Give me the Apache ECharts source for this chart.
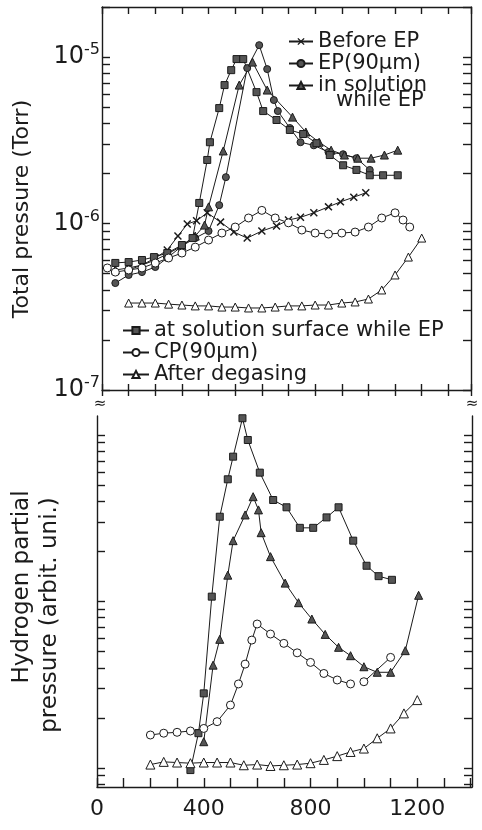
<!DOCTYPE html>
<html><head><meta charset="utf-8">
<script src="https://cdn.jsdelivr.net/npm/echarts@6/dist/echarts.min.js"></script>
<style>html,body{margin:0;padding:0;background:#fff}#c{width:482px;height:830px}</style>
</head><body><div id="c"></div>
<script>
// ---------- data (x = temperature, y = pressure) ----------
// Top panel: total pressure (Torr)
const beforeEP = [[100,5.26e-7],[150,5.63e-7],[200,6.21e-7],[245,6.93e-7],[285,8.41e-7],[320,9.93e-7],[355,1.04e-6],[395,1.16e-6],[445,1.02e-6],[495,8.89e-7],[545,8.18e-7],[600,9.02e-7],[655,9.67e-7],[700,1.05e-6],[745,1.09e-6],[795,1.16e-6],[850,1.26e-6],[895,1.35e-6],[945,1.44e-6],[990,1.53e-6]];
const ep90 = [[50,4.39e-7],[100,4.91e-7],[150,5.11e-7],[200,5.48e-7],[245,6.21e-7],[300,7.33e-7],[350,8.18e-7],[400,9.02e-7],[440,1.29e-6],[465,1.90e-6],[545,8.59e-6],[590,1.18e-5],[620,8.47e-6],[645,5.52e-6],[660,4.74e-6],[705,3.75e-6],[745,3.08e-6],[795,2.95e-6],[850,2.69e-6],[905,2.61e-6],[955,2.47e-6],[1005,2.10e-6]];
const inSolution = [[50,5.26e-7],[100,5.41e-7],[150,5.63e-7],[200,6.04e-7],[245,6.56e-7],[300,7.33e-7],[350,8.41e-7],[385,9.79e-7],[400,1.26e-6],[455,2.73e-6],[515,6.79e-6],[565,9.33e-6],[620,6.34e-6],[715,4.36e-6],[765,3.55e-6],[815,3.08e-6],[860,2.76e-6],[910,2.58e-6],[960,2.47e-6],[1010,2.47e-6],[1060,2.58e-6],[1110,2.76e-6]];
const atSurface = [[50,5.80e-7],[100,5.87e-7],[150,6.04e-7],[195,6.29e-7],[245,6.65e-7],[300,7.43e-7],[340,8.18e-7],[365,1.33e-6],[395,2.41e-6],[405,3.08e-6],[440,4.94e-6],[460,6.79e-6],[485,8.35e-6],[505,9.73e-6],[530,9.73e-6],[580,6.16e-6],[605,4.74e-6],[655,4.19e-6],[705,3.65e-6],[755,3.45e-6],[805,3.04e-6],[855,2.58e-6],[905,2.24e-6],[955,2.10e-6],[1005,1.95e-6],[1055,1.95e-6],[1110,1.95e-6]];
const cp90 = [[20,5.41e-7],[50,5.11e-7],[100,5.26e-7],[150,5.41e-7],[200,5.79e-7],[250,6.21e-7],[300,6.65e-7],[350,7.22e-7],[400,7.96e-7],[450,8.77e-7],[500,9.53e-7],[550,1.08e-6],[600,1.20e-6],[650,1.08e-6],[700,1.01e-6],[750,9.14e-7],[800,8.77e-7],[850,8.65e-7],[900,8.77e-7],[950,8.89e-7],[1000,9.53e-7],[1050,1.08e-6],[1100,1.16e-6],[1130,1.05e-6],[1155,9.53e-7]];
const afterDegas = [[100,3.33e-7],[150,3.33e-7],[200,3.33e-7],[250,3.28e-7],[300,3.24e-7],[350,3.20e-7],[400,3.20e-7],[450,3.15e-7],[500,3.15e-7],[550,3.11e-7],[600,3.11e-7],[650,3.15e-7],[700,3.20e-7],[750,3.20e-7],[800,3.24e-7],[850,3.24e-7],[900,3.33e-7],[950,3.38e-7],[1000,3.52e-7],[1050,3.99e-7],[1100,4.91e-7],[1150,6.29e-7],[1200,8.18e-7]];

// Bottom panel: hydrogen partial pressure (arbitrary units)
const h2Surface = [[350,0.973],[380,1.62],[400,2.81],[430,10.7],[460,32.3],[490,54.2],[510,74.1],[545,126],[565,93.3],[610,59.4],[660,40.7],[710,36.8],[760,27.7],[810,27.7],[860,32.0],[905,36.8],[960,23.2],[1010,16.4],[1055,14.2],[1105,13.5]];
const h2InSolution = [[400,1.44],[435,4.15],[460,5.93],[490,14.4],[510,23.2],[555,33.1],[585,42.6],[605,35.5],[615,25.9],[650,18.6],[705,12.9],[755,9.84],[805,7.85],[855,6.35],[905,5.31],[950,4.73],[1000,4.06],[1050,3.76],[1100,3.76],[1155,5.07],[1205,10.9]];
const h2CP = [[200,1.58],[250,1.62],[300,1.64],[350,1.67],[400,1.73],[450,1.90],[500,2.39],[530,3.20],[555,4.21],[580,5.87],[600,7.33],[650,6.38],[700,5.61],[750,4.92],[800,4.31],[850,3.70],[900,3.38],[950,3.20],[975,null],[1000,3.30],[1100,4.62]];
const h2AfterDegas = [[200,1.05],[250,1.09],[300,1.08],[350,1.07],[400,1.08],[450,1.08],[500,1.08],[550,1.04],[600,1.05],[650,1.03],[700,1.04],[750,1.05],[800,1.07],[850,1.12],[900,1.18],[950,1.25],[1000,1.31],[1050,1.51],[1100,1.73],[1150,2.13],[1200,2.56]];

// ---------- ticks / labels ----------
const topTickValues = [1e-7,2e-7,3e-7,4e-7,5e-7,6e-7,7e-7,8e-7,9e-7,1e-6,2e-6,3e-6,4e-6,5e-6,6e-6,7e-6,8e-6,9e-6,1e-5,2e-5];
const topLabelValues = [1e-7,1e-6,1e-5];
const topLabelExps = ['-7','-6','-5'];
const bottomTickValues = [0.8,0.9,1,2,3,4,5,6,7,8,9,10,20,30,40,50,60,70,80,90,100];
const xLabelValues = [0,400,800,1200];

const names = ['Before EP','EP(90µm)','in solution while EP','at solution surface while EP','CP(90µm)','After degasing'];

// ---------- style ----------
const FONT = 'DejaVu Sans';
const INK = '#1b1b1b';
const FILL = '#555555';
const crossPath = 'path://M0,1.3L1.3,0L5,3.7L8.7,0L10,1.3L6.3,5L10,8.7L8.7,10L5,6.3L1.3,10L0,8.7L3.7,5Z';

function ls(name, data, symbol, fill, size, xi, yi) {
  return {
    type:'line', name:name, data:data, xAxisIndex:xi, yAxisIndex:yi,
    symbol:symbol, symbolSize:size, showAllSymbol:true, connectNulls:false,
    animation:false, silent:true,
    lineStyle:{color:INK, width:1},
    itemStyle:{color:fill, borderColor:INK, borderWidth: symbol===crossPath?0:1},
    emphasis:{disabled:true}
  };
}

const axLine = {show:true, onZero:false, lineStyle:{color:INK, width:1.4}};
const tickStyle = {color:INK, width:1.4};

function xAx(grid, max, position, opts) {
  return Object.assign({
    gridIndex:grid, type:'value', min:0, max:max, interval:100, position:position,
    axisLine:axLine, splitLine:{show:false},
    axisTick:{show:true, inside:true, length:7, lineStyle:tickStyle},
    axisLabel:{show:false}
  }, opts||{});
}
function yLog(grid, min, max, position, ticks, label) {
  return {
    gridIndex:grid, type:'log', logBase:10, min:min, max:max, position:position,
    axisLine:axLine, splitLine:{show:false}, minorTick:{show:false},
    axisTick:{show:true, inside:true, length:8, customValues:ticks, lineStyle:tickStyle},
    axisLabel: label || {show:false}
  };
}

const topYLabel = {
  show:true, customValues:topLabelValues, margin:2,
  formatter: function (v) {
    const lv = Math.log10(v);
    for (let i = 0; i < topLabelValues.length; i++) {
      if (Math.abs(lv - Math.log10(topLabelValues[i])) < 0.01) return '{b|10}{e|' + topLabelExps[i] + '}';
    }
    return '';
  },
  rich: {
    b:{fontFamily:FONT, fontSize:24, color:INK, lineHeight:30},
    e:{fontFamily:FONT, fontSize:16, color:INK, verticalAlign:'top', lineHeight:16}
  }
};

const titleStyle = function(text, size){
  return {text:text, fontFamily:FONT, fontSize:size, fill:INK, align:'center', verticalAlign:'middle', textAlign:'center', textVerticalAlign:'middle'};
};

const option = {
  backgroundColor:'#ffffff',
  animation:false,
  grid:[
    {left:102, top:7, width:369, height:383, containLabel:false, outerBoundsMode:'none'},
    {left:97, top:416, width:375, height:371, containLabel:false, outerBoundsMode:'none'},
    {left:102, top:390, width:369, height:20, containLabel:false, outerBoundsMode:'none'}
  ],
  xAxis:[
    xAx(0, 1385, 'bottom', {axisTick:{show:true, inside:true, length:6, lineStyle:tickStyle}}),
    xAx(0, 1385, 'top'),
    xAx(1, 1405, 'bottom', {
      axisTick:{show:true, inside:true, length:9, lineStyle:tickStyle},
      axisLabel:{show:true, margin:11, fontFamily:FONT, fontSize:22, color:INK,
        showMaxLabel:false,
        formatter:function(v){ return xLabelValues.indexOf(v) >= 0 ? String(v) : ''; }}
    }),
    xAx(2, 1385, 'top', {axisLine:{show:false, onZero:false}, axisTick:{show:true, inside:true, length:6, lineStyle:tickStyle}})
  ],
  yAxis:[
    yLog(0, 1e-7, 2e-5, 'left', topTickValues, topYLabel),
    yLog(0, 1e-7, 2e-5, 'right', topTickValues),
    yLog(1, 0.77, 130, 'left', bottomTickValues),
    yLog(1, 0.77, 130, 'right', bottomTickValues),
    {gridIndex:2, type:'value', show:false, min:0, max:1}
  ],
  legend:[
    {left:283, top:26, orient:'vertical', selectedMode:false, itemWidth:24, itemHeight:9, itemGap:1,
     data:[names[0], names[1], names[2]],
     formatter:function(n){ return n === names[2] ? 'in solution' : n; },
     textStyle:{fontFamily:FONT, fontSize:21, color:INK}},
    {left:117, top:315, orient:'vertical', selectedMode:false, itemWidth:26, itemHeight:9, itemGap:1,
     data:[names[3], names[4], names[5]],
     textStyle:{fontFamily:FONT, fontSize:21, color:INK}}
  ],
  graphic:[
    {type:'text', x:22, y:209, rotation:Math.PI/2, silent:true, style:titleStyle('Total pressure (Torr)', 22)},
    {type:'text', x:22, y:587, rotation:Math.PI/2, silent:true, style:titleStyle('Hydrogen partial', 23)},
    {type:'text', x:50, y:615, rotation:Math.PI/2, silent:true, style:titleStyle('pressure (arbit. uni.)', 23)},
    {type:'text', x:336, y:101, silent:true,
     style:{text:'while EP', fontFamily:FONT, fontSize:21, fill:INK, align:'left', verticalAlign:'middle', textAlign:'left', textVerticalAlign:'middle'}},
    {type:'text', x:100, y:404, silent:true, style:titleStyle('≈', 15)},
    {type:'text', x:472, y:404, silent:true, style:titleStyle('≈', 15)}
  ],
  series:[
    ls(names[0], beforeEP, crossPath, INK, 8, 0, 0),
    ls(names[1], ep90, 'circle', FILL, 7, 0, 0),
    ls(names[2], inSolution, 'triangle', FILL, 8, 0, 0),
    ls(names[3], atSurface, 'rect', FILL, 7, 0, 0),
    ls(names[4], cp90, 'circle', '#ffffff', 8, 0, 0),
    ls(names[5], afterDegas, 'triangle', '#ffffff', 8, 0, 0),
    ls('H2 at solution surface', h2Surface, 'rect', FILL, 7, 2, 2),
    ls('H2 in solution', h2InSolution, 'triangle', FILL, 8, 2, 2),
    ls('H2 CP', h2CP, 'circle', '#ffffff', 8, 2, 2),
    ls('H2 after degasing', h2AfterDegas, 'triangle', '#ffffff', 9, 2, 2)
  ]
};

const chart = echarts.init(document.getElementById('c'), null, {renderer:'canvas'});
chart.setOption(option);
</script></body></html>
